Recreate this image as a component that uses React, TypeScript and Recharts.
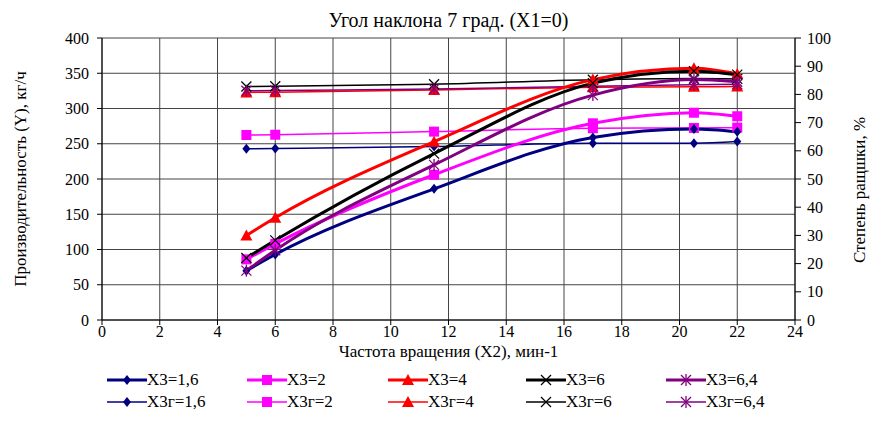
import { ComposedChart, Line, XAxis, YAxis, CartesianGrid } from 'recharts';

// x2 values (rotation frequency)
const xValues = [5, 6, 11.5, 17, 20.5, 22];
const xTicks = [0, 2, 4, 6, 8, 10, 12, 14, 16, 18, 20, 22, 24];
const leftTicks = [0, 50, 100, 150, 200, 250, 300, 350, 400];
const rightTicks = [0, 10, 20, 30, 40, 50, 60, 70, 80, 90, 100];

// productivity, kg/h (left axis)
const y16 = [70, 93, 186, 259, 271, 267];
const y2 = [86, 108, 206, 279, 294, 289];
const y4 = [120, 145, 253, 341, 357, 349];
const y6 = [88, 113, 236, 336, 353, 348];
const y64 = [70, 99, 220, 319, 341, 338];

// degree, % (right axis)
const r16 = [60.7, 60.8, 61.5, 62.7, 62.7, 63.3];
const r2 = [65.6, 65.7, 66.8, 68, 68.1, 68.2];
const r4 = [80.7, 80.8, 81.6, 82.5, 82.7, 82.8];
const r6 = [82.8, 82.9, 83.6, 85.2, 85.6, 85.5];
const r64 = [81.3, 81.4, 81.9, 82.9, 83.4, 83.6];

const data = xValues.map((x, i) => ({
  x,
  y16: y16[i],
  y2: y2[i],
  y4: y4[i],
  y6: y6[i],
  y64: y64[i],
  r16: r16[i],
  r2: r2[i],
  r4: r4[i],
  r6: r6[i],
  r64: r64[i],
}));

type Shape = 'diamond' | 'square' | 'triangle' | 'cross' | 'star';

function Marker({ cx, cy, shape, color }: { cx: number; cy: number; shape: Shape; color: string }) {
  if (shape === 'diamond') {
    return <polygon points={`${cx},${cy - 5} ${cx + 4},${cy} ${cx},${cy + 5} ${cx - 4},${cy}`} fill={color} />;
  }
  if (shape === 'square') {
    return <rect x={cx - 5} y={cy - 5} width={10} height={10} fill={color} />;
  }
  if (shape === 'triangle') {
    return <polygon points={`${cx},${cy - 6} ${cx + 6},${cy + 5} ${cx - 6},${cy + 5}`} fill={color} />;
  }
  const d = 5;
  return (
    <g stroke={color} strokeWidth={1.3}>
      <line x1={cx - d} y1={cy - d} x2={cx + d} y2={cy + d} />
      <line x1={cx - d} y1={cy + d} x2={cx + d} y2={cy - d} />
      {shape === 'star' && <line x1={cx} y1={cy - d - 1} x2={cx} y2={cy + d + 1} />}
    </g>
  );
}

const dotFor = (shape: Shape, color: string) => (props: any) =>
  <Marker key={props.index} cx={props.cx} cy={props.cy} shape={shape} color={color} />;

const series: { key: string; rkey: string; name: string; rname: string; color: string; shape: Shape }[] = [
  { key: 'y16', rkey: 'r16', name: 'X3=1,6', rname: 'X3г=1,6', color: '#000080', shape: 'diamond' },
  { key: 'y2', rkey: 'r2', name: 'X3=2', rname: 'X3г=2', color: '#FF00FF', shape: 'square' },
  { key: 'y4', rkey: 'r4', name: 'X3=4', rname: 'X3г=4', color: '#FF0000', shape: 'triangle' },
  { key: 'y6', rkey: 'r6', name: 'X3=6', rname: 'X3г=6', color: '#000000', shape: 'cross' },
  { key: 'y64', rkey: 'r64', name: 'X3=6,4', rname: 'X3г=6,4', color: '#800080', shape: 'star' },
];

const legendX = [107, 247, 388, 526, 666];
const font = "'Liberation Serif', 'DejaVu Serif', serif";

function LegendItem({ x, y, label, color, shape, thick }: any) {
  return (
    <div style={{ position: 'absolute', left: x, top: y - 10, height: 20, display: 'flex', alignItems: 'center' }}>
      <svg width={40} height={20}>
        <line x1={0} y1={10} x2={40} y2={10} stroke={color} strokeWidth={thick ? 3 : 1.5} />
        <Marker cx={20} cy={10} shape={shape} color={color} />
      </svg>
      <span style={{ fontSize: 17, color: '#000', lineHeight: '20px' }}>{label}</span>
    </div>
  );
}

export default function App() {
  return (
    <div style={{ position: 'absolute', left: 0, top: 0, width: 882, height: 423, background: '#fff', fontFamily: font }}>
      <div style={{ position: 'absolute', left: 0, width: 897, top: 8, textAlign: 'center', fontSize: 20, lineHeight: '24px' }}>
        Угол наклона 7 град. (X1=0)
      </div>
      <ComposedChart width={882} height={423} data={data} margin={{ top: 38, right: 0, bottom: 0, left: 0 }}>
        <CartesianGrid yAxisId="left" stroke="#444" strokeWidth={1} />
        <XAxis
          dataKey="x"
          type="number"
          domain={[0, 24]}
          ticks={xTicks}
          height={103}
          interval={0}
          stroke="#000"
          tickSize={5}
          tickMargin={1}
          tick={{ fill: '#000', fontSize: 16, fontFamily: font }}
        />
        <YAxis
          yAxisId="left"
          domain={[0, 400]}
          ticks={leftTicks}
          width={102}
          interval={0}
          stroke="#000"
          tickSize={5}
          tickMargin={8}
          tick={{ fill: '#000', fontSize: 16, fontFamily: font }}
        />
        <YAxis
          yAxisId="right"
          orientation="right"
          domain={[0, 100]}
          ticks={rightTicks}
          width={87}
          interval={0}
          stroke="#000"
          tickSize={6}
          tickMargin={6}
          tick={{ fill: '#000', fontSize: 16, fontFamily: font }}
        />
        {series.map((s) => (
          <Line
            key={s.rkey}
            yAxisId="right"
            type="monotone"
            dataKey={s.rkey}
            name={s.rname}
            stroke={s.color}
            strokeWidth={1.5}
            dot={dotFor(s.shape, s.color)}
            activeDot={false}
            isAnimationActive={false}
          />
        ))}
        {series.map((s) => (
          <Line
            key={s.key}
            yAxisId="left"
            type="monotone"
            dataKey={s.key}
            name={s.name}
            stroke={s.color}
            strokeWidth={3}
            dot={dotFor(s.shape, s.color)}
            activeDot={false}
            isAnimationActive={false}
          />
        ))}
      </ComposedChart>
      <div style={{ position: 'absolute', left: 0, width: 897, top: 342, textAlign: 'center', fontSize: 17, lineHeight: '20px' }}>
        Частота вращения (X2), мин-1
      </div>
      <div
        style={{
          position: 'absolute',
          left: 21,
          top: 179,
          transform: 'translate(-50%, -50%) rotate(-90deg)',
          whiteSpace: 'nowrap',
          fontSize: 17,
        }}
      >
        Производительность (Y), кг/ч
      </div>
      <div
        style={{
          position: 'absolute',
          left: 860,
          top: 190,
          transform: 'translate(-50%, -50%) rotate(-90deg)',
          whiteSpace: 'nowrap',
          fontSize: 17,
        }}
      >
        Степень ращшки, %
      </div>
      {series.map((s, i) => (
        <LegendItem key={s.key} x={legendX[i]} y={380} label={s.name} color={s.color} shape={s.shape} thick />
      ))}
      {series.map((s, i) => (
        <LegendItem key={s.rkey} x={legendX[i]} y={402} label={s.rname} color={s.color} shape={s.shape} />
      ))}
    </div>
  );
}
